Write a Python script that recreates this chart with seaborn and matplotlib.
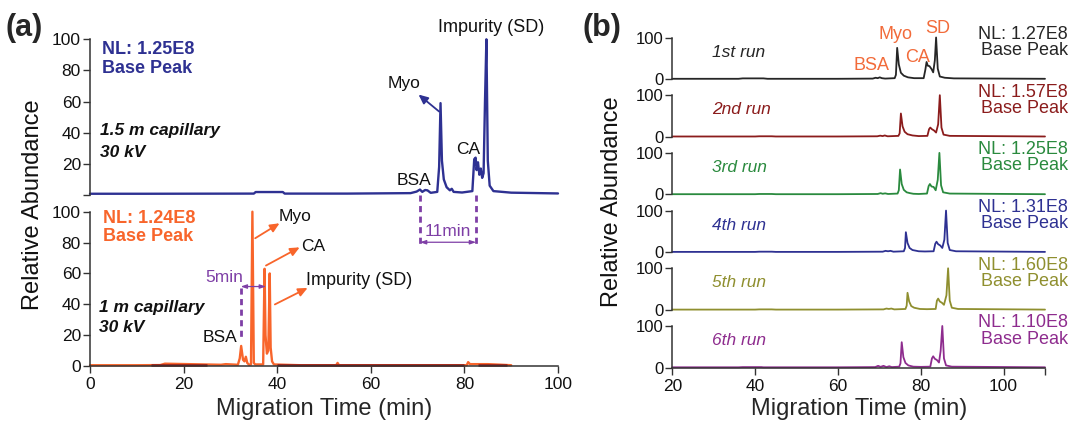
import matplotlib
matplotlib.use("Agg")
import matplotlib.pyplot as plt
import seaborn as sns
import pandas as pd

# ---------------- data ----------------
# Panel (a) top: 1.5 m capillary
a1_time = [0, 12, 35.0, 35.4, 41.2, 41.6, 55, 68.5, 69.8, 70.5, 71.0, 71.6, 72.1, 72.8, 74.2, 74.6, 74.9, 75.2, 75.6, 76.2,
           76.9, 77.3, 77.7, 79.5, 81.7, 82.1, 82.4, 82.6, 82.9, 83.2, 83.5, 83.8, 84.1, 84.4, 84.7, 85.0, 85.4, 86.2, 90, 100]
a1_int = [0.8, 0.8, 0.9, 1.9, 1.9, 0.9, 0.9, 1.2, 2.2, 3.5, 2.0, 3.2, 3.0, 1.4, 2.0, 18, 59, 22, 10, 5,
          3, 4, 2, 1.6, 2.5, 23, 24, 16, 21, 13, 17, 11, 14, 60, 100, 22, 6, 2.5, 1.5, 1.0]

# Panel (a) bottom: 1 m capillary
a2_time = [0, 10, 15, 16, 28, 29, 31.6, 32.0, 32.3, 32.7, 33.0, 33.3, 33.6, 34.0, 34.4, 34.7, 35.0, 35.3, 37.0, 37.3,
           37.5, 37.8, 38.1, 38.4, 38.6, 38.9, 39.3, 45, 52.6, 52.9, 53.2, 70, 80.5, 80.8, 81.2, 85, 88, 90]
a2_int = [0.5, 0.5, 0.6, 1.5, 0.8, 1.2, 0.8, 5, 13, 4, 3, 6, 2, 0.8, 1.0, 100, 2, 1.0, 1.0, 63,
          20, 8, 10, 60, 12, 3, 1.0, 0.5, 0.5, 2, 0.5, 0.5, 0.5, 2.5, 1.2, 1.2, 0.8, 0.5]
# dark baseline segments under the 1 m trace
a2_dark_segments = [(13, 25), (40, 80), (83, 89)]

# Panel (b): six replicate runs
run_labels = ["1st run", "2nd run", "3rd run", "4th run", "5th run", "6th run"]
run_nl = ["NL: 1.27E8", "NL: 1.57E8", "NL: 1.25E8", "NL: 1.31E8", "NL: 1.60E8", "NL: 1.10E8"]
run_colors = ["#262626", "#8B1C1C", "#2A8A3E", "#2E3192", "#8F8F2F", "#8E2C8E"]

t1 = [20, 36, 37, 42, 43, 60, 68.4, 69.1, 69.6, 70.1, 70.6, 71.4, 73.7, 74.0, 74.3, 74.7, 75.2, 75.9, 76.9, 78.4,
      80.7, 81.1, 81.4, 81.7, 82.1, 82.6, 83.0, 83.4, 83.7, 84.1, 84.6, 85.8, 88, 110]
y1 = [0.5, 0.5, 1.5, 1.5, 0.5, 0.5, 1, 3, 2, 4, 2, 1, 2, 10, 75, 35, 15, 8, 4, 2,
      2, 22, 41, 32, 31, 24, 16, 45, 100, 25, 6, 3, 1.5, 0.5]
t2 = [20, 40, 41, 44, 45, 60, 69.5, 70.2, 70.8, 71.3, 72.0, 74.6, 74.9, 75.2, 75.6, 76.1, 76.8, 78, 79.5, 81.6,
      82.0, 82.3, 82.7, 83.2, 83.7, 84.2, 84.6, 85.0, 85.5, 87, 110]
y2 = [0.5, 0.5, 1, 1, 0.5, 0.5, 1, 2.5, 1.5, 3, 1, 2, 8, 56, 25, 12, 6, 3, 1.5, 2,
      18, 22, 18, 15, 10, 30, 100, 22, 5, 2, 0.5]
t3 = [20, 40, 41, 44, 45, 60, 69.6, 70.3, 70.8, 71.4, 72.1, 74.4, 74.7, 75.0, 75.4, 75.9, 76.6, 77.4, 78.2, 79.5,
      81.5, 81.9, 82.2, 82.6, 83.1, 83.6, 84.1, 84.5, 84.9, 85.4, 87, 110]
y3 = [0.5, 0.5, 1, 1, 0.5, 0.5, 1, 3, 1.5, 2.5, 1, 2, 10, 60, 25, 11, 5, 3, 1.5, 1,
      2, 20, 25, 19, 18, 10, 35, 100, 22, 5, 2, 0.5]
t4 = [20, 40, 41, 44, 45, 60, 70.8, 71.5, 72.1, 72.7, 73.4, 75.9, 76.2, 76.4, 76.8, 77.3, 78.0, 79.5, 81, 83.1,
      83.5, 83.8, 84.2, 84.7, 85.2, 85.7, 86.1, 86.5, 87.0, 88.5, 110]
y4 = [0.5, 0.5, 1, 1, 0.5, 0.5, 1, 3, 2, 3, 1, 2, 10, 48, 22, 10, 5, 2, 1.5, 2,
      20, 25, 19, 16, 10, 30, 100, 22, 5, 2, 0.5]
t5 = [20, 40, 41, 44, 45, 60, 71.0, 71.7, 72.3, 72.9, 73.6, 76.3, 76.6, 76.8, 77.2, 77.7, 78.4, 79.8, 81.5, 83.6,
      83.9, 84.2, 84.6, 85.1, 85.6, 86.2, 86.6, 87.0, 87.5, 89, 110]
y5 = [0.5, 0.5, 1, 1, 0.5, 0.5, 1, 3, 2, 3, 1, 2, 10, 41, 20, 9, 5, 2, 1.5, 2,
      22, 27, 20, 17, 12, 35, 100, 22, 5, 2, 0.5]
t6 = [20, 36, 37, 41.5, 42, 60, 69.0, 69.7, 70.3, 71.0, 71.7, 72.4, 73.0, 74.8, 75.1, 75.4, 75.8, 76.3, 77.0, 78.2,
      80, 82.3, 82.7, 83.0, 83.4, 83.9, 84.4, 84.8, 85.2, 85.6, 86.1, 87.5, 110]
y6 = [0.5, 0.5, 1, 1, 0.5, 0.5, 1, 4, 1.5, 4, 1, 3, 1, 2, 10, 61, 25, 11, 5, 2,
      1.5, 2, 22, 27, 21, 18, 12, 40, 100, 22, 5, 2, 0.5]
run_times = [t1, t2, t3, t4, t5, t6]
run_ints = [y1, y2, y3, y4, y5, y6]

# ---------------- style ----------------
sns.set_style("ticks")
plt.rcParams["font.family"] = ["Liberation Sans", "DejaVu Sans"]
plt.rcParams["axes.edgecolor"] = "#333333"
plt.rcParams["axes.linewidth"] = 1.1
plt.rcParams["xtick.color"] = "#333333"
plt.rcParams["ytick.color"] = "#333333"
plt.rcParams["xtick.labelcolor"] = "#111111"
plt.rcParams["ytick.labelcolor"] = "#111111"

W, H = 1070, 425
fig = plt.figure(figsize=(W / 100, H / 100), dpi=100)

BLUE = "#2E3192"
ORANGE = "#F8652B"
DARKRED = "#8B1A1A"
PURPLE = "#7E3FA6"
LBL_ORANGE = "#F26B3A"


def add_ax(left_px, top_px, right_px, bottom_px):
    return fig.add_axes([left_px / W, 1 - bottom_px / H, (right_px - left_px) / W, (bottom_px - top_px) / H])


def trace(ax, t, y, color, lw):
    df = pd.DataFrame({"time": t, "intensity": y})
    sns.lineplot(data=df, x="time", y="intensity", ax=ax, color=color, lw=lw,
                 estimator=None, sort=False, legend=False)
    for ln in ax.lines:
        ln.set_clip_on(False)


def style_y(ax, ticks, labels, size):
    ax.set_yticks(ticks)
    ax.set_yticklabels(labels)
    ax.tick_params(axis="y", length=5, width=1.0, pad=1.5, labelsize=size, direction="out")
    ax.set_ylabel("")
    ax.set_xlabel("")


# ---------------- panel (a) ----------------
ax_a1 = add_ax(90, 39.3, 558, 195)
ax_a2 = add_ax(90, 211.7, 558, 366)

trace(ax_a1, a1_time, a1_int, BLUE, 1.7)
trace(ax_a2, a2_time, a2_int, ORANGE, 1.7)
for (s, e) in a2_dark_segments:
    ax_a2.plot([s, e], [0.5, 0.5], color=DARKRED, lw=1.8, solid_capstyle="butt", clip_on=False)

for ax in (ax_a1, ax_a2):
    ax.set_xlim(0, 100)
    ax.set_ylim(0, 100)
    sns.despine(ax=ax)

style_y(ax_a1, [0, 20, 40, 60, 80, 100], ["", "20", "40", "60", "80", "100"], 12.5)
ax_a1.spines["bottom"].set_visible(False)
ax_a1.set_xticks([])
style_y(ax_a2, [0, 20, 40, 60, 80, 100], ["0", "20", "40", "60", "80", "100"], 12.5)
ax_a2.set_xticks([0, 20, 40, 60, 80, 100])
ax_a2.tick_params(axis="x", length=5, width=1.0, pad=3, labelsize=12.5)
ax_a2.set_xlabel("Migration Time (min)", fontsize=17, labelpad=4)

# texts top
ax_a1.text(2.5, 90.4, "NL: 1.25E8", color=BLUE, fontsize=13, fontweight="bold", va="baseline")
ax_a1.text(2.5, 78.5, "Base Peak", color=BLUE, fontsize=13, fontweight="bold", va="baseline")
ax_a1.text(2.1, 38.5, "1.5 m capillary", fontsize=12.5, fontweight="bold", style="italic", va="baseline", color="#111111")
ax_a1.text(2.1, 24.6, "30 kV", fontsize=12.5, fontweight="bold", style="italic", va="baseline", color="#111111")
ax_a1.text(85.8, 104.6, "Impurity (SD)", fontsize=13, ha="center", va="baseline", color="#111111", clip_on=False)
ax_a1.text(67.1, 68.8, "Myo", fontsize=12.5, ha="center", va="baseline", color="#111111")
ax_a1.text(80.8, 26.3, "CA", fontsize=12.5, ha="center", va="baseline", color="#111111")
ax_a1.text(69.2, 6.5, "BSA", fontsize=12.5, ha="center", va="baseline", color="#111111")
ax_a1.annotate("", xy=(70.2, 64.5), xytext=(74.6, 53.6),
               arrowprops=dict(arrowstyle="-|>,head_length=0.55,head_width=0.25", color=BLUE, lw=1.3,
                               shrinkA=0, shrinkB=0))

# texts bottom
ax_a2.text(2.85, 92.9, "NL: 1.24E8", color=ORANGE, fontsize=13, fontweight="bold", va="baseline")
ax_a2.text(2.85, 81.2, "Base Peak", color=ORANGE, fontsize=13, fontweight="bold", va="baseline")
ax_a2.text(2.0, 35.2, "1 m capillary", fontsize=12.5, fontweight="bold", style="italic", va="baseline", color="#111111")
ax_a2.text(2.0, 21.8, "30 kV", fontsize=12.5, fontweight="bold", style="italic", va="baseline", color="#111111")
ax_a2.text(40.3, 94.2, "Myo", fontsize=12.5, ha="left", va="baseline", color="#111111")
ax_a2.text(45.2, 74.8, "CA", fontsize=12.5, ha="left", va="baseline", color="#111111")
ax_a2.text(46.1, 52.2, "Impurity (SD)", fontsize=13, ha="left", va="baseline", color="#111111")
ax_a2.text(31.4, 15.5, "BSA", fontsize=12.5, ha="right", va="baseline", color="#111111")
for tail, head in [((35.3, 82.8), (40.5, 92.5)), ((37.6, 65.1), (44.8, 76.9)), ((39.5, 39.9), (46.5, 50.6))]:
    ax_a2.annotate("", xy=head, xytext=tail,
                   arrowprops=dict(arrowstyle="-|>,head_length=0.55,head_width=0.25", color=ORANGE, lw=1.3,
                                   shrinkA=0, shrinkB=0))

# 5 min marker
ax_a2.plot([32.2, 32.2], [50.6, 16.6], color=PURPLE, lw=2.0, ls=(0, (2.2, 1.6)), clip_on=False)
ax_a2.annotate("", xy=(37.6, 51.5), xytext=(32.2, 51.5),
               arrowprops=dict(arrowstyle="<|-|>,head_length=0.35,head_width=0.12", color=PURPLE, lw=0.9,
                               shrinkA=0, shrinkB=0))
ax_a2.text(28.7, 54.7, "5min", fontsize=12.5, color=PURPLE, ha="center", va="baseline")

# 11 min marker
for xv in (70.5, 82.5):
    ax_a2.plot([xv, xv], [110.5, 78], color=PURPLE, lw=2.0, ls=(0, (2.2, 1.6)), clip_on=False)
ax_a2.annotate("", xy=(82.5, 80.2), xytext=(70.5, 80.2),
               arrowprops=dict(arrowstyle="<|-|>,head_length=0.35,head_width=0.12", color=PURPLE, lw=0.9,
                               shrinkA=0, shrinkB=0))
ax_a2.text(76.5, 84.5, "11min", fontsize=12.5, color=PURPLE, ha="center", va="baseline")

fig.text(33 / W, 1 - 205 / H, "Relative Abundance", rotation=90, fontsize=17, ha="center", va="center", color="#111111")
fig.text(6 / W, 1 - 28 / H, "(a)", fontsize=22, fontweight="bold", ha="left", va="center")

# ---------------- panel (b) ----------------
b_left, b_right = 672.3, 1045
row_h, row_step, first_zero = 41.5, 57.7, 79.0
axes_b = []
for i in range(6):
    zero_px = first_zero + row_step * i
    ax = add_ax(b_left, zero_px - row_h, b_right, zero_px)
    axes_b.append(ax)
    trace(ax, run_times[i], run_ints[i], run_colors[i], 1.3)
    ax.set_xlim(20, 110)
    ax.set_ylim(0, 100)
    sns.despine(ax=ax)
    style_y(ax, [0, 100], ["0", "100"], 12)
    if i < 5:
        ax.spines["bottom"].set_visible(False)
        ax.set_xticks([])
    ax.text(29.5, 54, run_labels[i], color=run_colors[i], fontsize=12.5, style="italic", va="baseline")
    ax.text(115.5, 96.4, run_nl[i], color=run_colors[i], fontsize=13, ha="right", va="baseline", clip_on=False)
    ax.text(115.5, 57.8, "Base Peak", color=run_colors[i], fontsize=13, ha="right", va="baseline", clip_on=False)

ax_b6 = axes_b[-1]
ax_b6.set_xticks([20, 40, 60, 80, 100, 110])
ax_b6.set_xticklabels(["20", "40", "60", "80", "100", ""])
ax_b6.tick_params(axis="x", length=5, width=1.0, pad=3, labelsize=12.5)
ax_b6.set_xlabel("Migration Time (min)", fontsize=17, labelpad=3)

ax_b1 = axes_b[0]
for (x, y, s) in [(68.2, 21.7, "BSA"), (74.0, 95.7, "Myo"), (79.3, 41.7, "CA"), (84.2, 110, "SD")]:
    ax_b1.text(x, y, s, color=LBL_ORANGE, fontsize=13, ha="center", va="baseline", clip_on=False)

fig.text(612 / W, 1 - 202 / H, "Relative Abundance", rotation=90, fontsize=17, ha="center", va="center", color="#111111")
fig.text(583 / W, 1 - 28 / H, "(b)", fontsize=22, fontweight="bold", ha="left", va="center")

fig.savefig("out.png", dpi=100)
